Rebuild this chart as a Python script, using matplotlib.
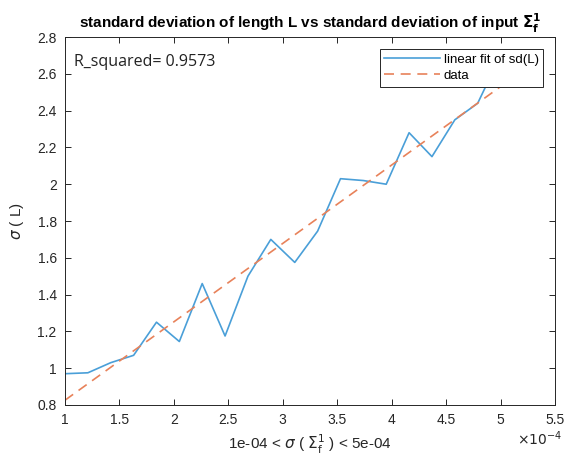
import numpy as np
import matplotlib
matplotlib.use("Agg")
import matplotlib.pyplot as plt
from matplotlib.ticker import FuncFormatter, MultipleLocator

# input standard deviation (x 1e-4) and measured sd of length L
sigma_in = np.array([1.00, 1.21, 1.42, 1.63, 1.84, 2.05, 2.26, 2.47, 2.68, 2.89,
                     3.11, 3.32, 3.53, 3.74, 3.95, 4.16, 4.37, 4.58, 4.79, 5.00]) * 1e-4
sd_L = np.array([0.97, 0.975, 1.03, 1.07, 1.25, 1.145, 1.46, 1.175, 1.50, 1.70,
                 1.575, 1.745, 2.03, 2.02, 2.0, 2.28, 2.15, 2.35, 2.44, 2.70])
r_squared = 0.9573

plt.rcParams['font.family'] = ['Liberation Sans', 'DejaVu Sans']
plt.rcParams['mathtext.fontset'] = 'dejavusans'

fig = plt.figure(figsize=(5.82, 4.63), dpi=100)
ax = fig.add_axes([0.1117, 0.1253, 0.8419, 0.7947])

# linear fit of the data
p = np.polyfit(sigma_in, sd_L, 1)
fit_x = np.array([sigma_in[0], sigma_in[-1]])
fit_y = np.polyval(p, fit_x)

ax.plot(sigma_in, sd_L, color='#4a9fd8', lw=1.2, label='linear fit of sd(L)')
ax.plot(fit_x, fit_y, color='#e8825a', lw=1.2, ls=(0, (6, 4)), label='data')

ax.set_xlim(1e-4, 5.5e-4)
ax.set_ylim(0.8, 2.8)
ax.xaxis.set_major_locator(MultipleLocator(0.5e-4))
ax.yaxis.set_major_locator(MultipleLocator(0.2))
ax.xaxis.set_major_formatter(FuncFormatter(lambda v, pos: '%g' % round(v * 1e4, 3)))
ax.yaxis.set_major_formatter(FuncFormatter(lambda v, pos: '%g' % round(v, 3)))

grey = '#262626'
ax.tick_params(direction='in', top=True, right=True, length=4, width=0.7,
               labelsize=10, colors=grey, pad=6)
for s in ax.spines.values():
    s.set_color(grey)
    s.set_linewidth(0.7)

ax.set_title(r'standard deviation of length L vs standard deviation of input $\mathbf{\Sigma_f^1}$',
             fontsize=11, fontweight='bold', pad=6)
ax.set_xlabel(r'1e-04 < $\sigma$ ( $\Sigma_\mathrm{f}^1$ ) < 5e-04', fontsize=11, color=grey, labelpad=4)
ax.set_ylabel(r'$\sigma$ ( L)', fontsize=11, color=grey, labelpad=8)
fig.text(0.888, 0.038, r'$\times10^{-4}$', fontsize=10, color=grey)

ax.text(0.018, 0.955, 'R_squared= %.4f' % r_squared, transform=ax.transAxes,
        fontsize=11.5, family=['Open Sans', 'DejaVu Sans'], va='top', color='#222222')

leg = ax.legend(loc='upper right', fontsize=9.5, fancybox=False, framealpha=1,
                edgecolor=grey, handlelength=4.2, borderaxespad=0.9,
                borderpad=0.35, labelspacing=0.3, handletextpad=0.3)
leg.get_frame().set_linewidth(0.7)

fig.savefig('out.png', dpi=100)
